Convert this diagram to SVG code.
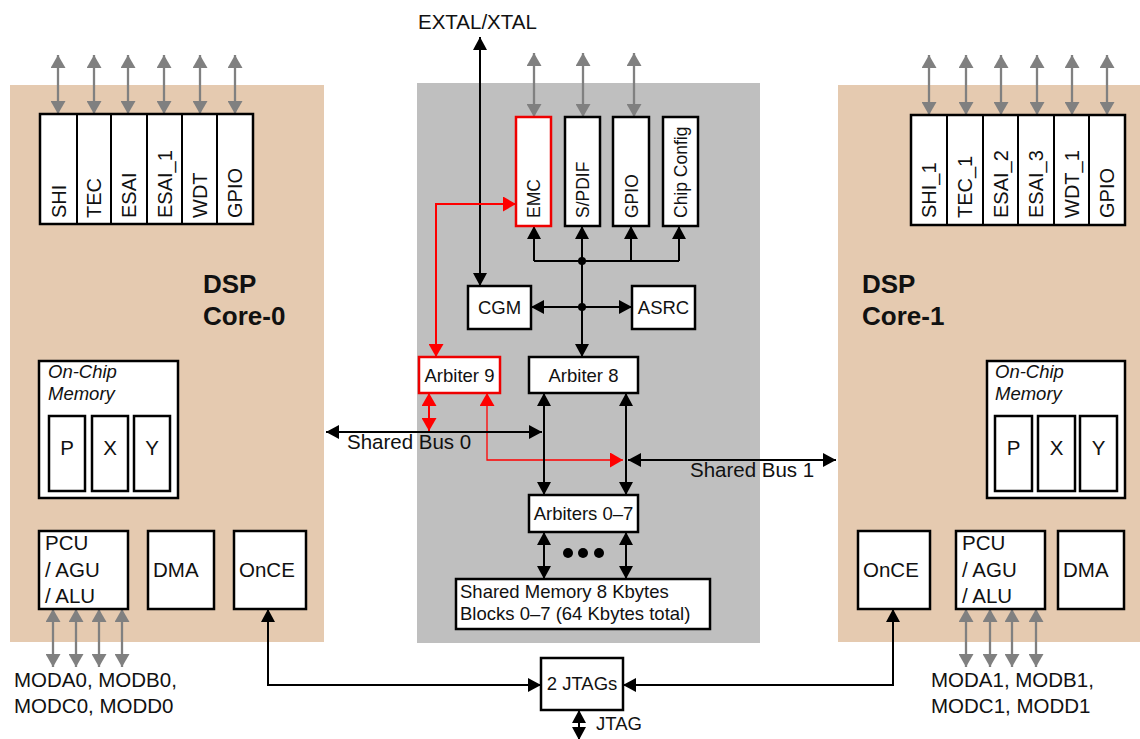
<svg xmlns="http://www.w3.org/2000/svg" width="1140" height="739" viewBox="0 0 1140 739">
<defs>
<style>
text{font-family:"Liberation Sans",Arial,sans-serif;fill:#111}
.box{fill:#fff;stroke:#000;stroke-width:2.5}
.rbox{fill:#fff;stroke:#e00;stroke-width:2.5}
.per{font-size:20px}
.cper{font-size:17.5px}
.ctr{font-size:18.5px}
.core{font-size:20.5px}
.lbl{font-size:20.5px}
.dsp{font-size:26px;font-weight:bold}
.ital{font-size:18.5px;font-style:italic}
.g{stroke:#808080;stroke-width:2.3;fill:none;marker-start:url(#ag);marker-end:url(#ag)}
.b2{stroke:#000;stroke-width:2;fill:none;marker-start:url(#ab);marker-end:url(#ab)}
.b1{stroke:#000;stroke-width:2;fill:none;marker-end:url(#ab)}
.bl{stroke:#000;stroke-width:2;fill:none}
.r2{stroke:#f00;stroke-width:2;fill:none;marker-start:url(#ar);marker-end:url(#ar)}
.rt{stroke:#f00;stroke-width:1.3;fill:none;marker-start:url(#ar);marker-end:url(#ar)}
</style>
<marker id="ag" viewBox="0 0 13 15" refX="13" refY="7.5" markerWidth="13" markerHeight="15" markerUnits="userSpaceOnUse" orient="auto-start-reverse"><path d="M0,0 L13,7.5 L0,15 z" fill="#808080"/></marker>
<marker id="ab" viewBox="0 0 13 14" refX="13" refY="7" markerWidth="13" markerHeight="14" markerUnits="userSpaceOnUse" orient="auto-start-reverse"><path d="M0,0 L13,7 L0,14 z" fill="#000"/></marker>
<marker id="ar" viewBox="0 0 13 15" refX="13" refY="7.5" markerWidth="13" markerHeight="15" markerUnits="userSpaceOnUse" orient="auto-start-reverse"><path d="M0,0 L13,7.5 L0,15 z" fill="#f00"/></marker>
</defs>
<rect width="1140" height="739" fill="#fff"/>
<g id="core0-bg"><rect x="10" y="85" width="314" height="557" fill="#e5cab0"/></g>
<g id="core1-bg"><rect x="838" y="85" width="302" height="557" fill="#e5cab0"/></g>
<g id="shared-bg"><rect x="417" y="83" width="343" height="560" fill="#bfbfbf"/></g>

<g id="connectors">
<line class="g" x1="58" y1="55" x2="58" y2="114"/>
<line class="g" x1="94" y1="55" x2="94" y2="114"/>
<line class="g" x1="128" y1="55" x2="128" y2="114"/>
<line class="g" x1="164" y1="55" x2="164" y2="114"/>
<line class="g" x1="200" y1="55" x2="200" y2="114"/>
<line class="g" x1="235" y1="55" x2="235" y2="114"/>
<line class="g" x1="929" y1="55" x2="929" y2="115"/>
<line class="g" x1="966" y1="55" x2="966" y2="115"/>
<line class="g" x1="1001" y1="55" x2="1001" y2="115"/>
<line class="g" x1="1037" y1="55" x2="1037" y2="115"/>
<line class="g" x1="1072" y1="55" x2="1072" y2="115"/>
<line class="g" x1="1107" y1="55" x2="1107" y2="115"/>
<line class="g" x1="534" y1="53" x2="534" y2="117"/>
<line class="g" x1="583" y1="53" x2="583" y2="117"/>
<line class="g" x1="634" y1="53" x2="634" y2="117"/>
<line class="g" x1="53" y1="609" x2="53" y2="667"/>
<line class="g" x1="76" y1="609" x2="76" y2="667"/>
<line class="g" x1="99" y1="609" x2="99" y2="667"/>
<line class="g" x1="122" y1="609" x2="122" y2="667"/>
<line class="g" x1="966" y1="609" x2="966" y2="667"/>
<line class="g" x1="990" y1="609" x2="990" y2="667"/>
<line class="g" x1="1012" y1="609" x2="1012" y2="667"/>
<line class="g" x1="1036" y1="609" x2="1036" y2="667"/>
<line class="b2" x1="480" y1="37" x2="480" y2="286"/>
<line class="bl" x1="534" y1="261" x2="679" y2="261"/>
<line class="b1" x1="534" y1="261" x2="534" y2="226"/>
<line class="b1" x1="582" y1="261" x2="582" y2="226"/>
<line class="b1" x1="631" y1="261" x2="631" y2="226"/>
<line class="b1" x1="679" y1="261" x2="679" y2="226"/>
<line class="b1" x1="582" y1="261" x2="582" y2="357"/>
<line class="b2" x1="531" y1="307" x2="632" y2="307"/>
<circle cx="582" cy="261" r="4" fill="#000"/>
<circle cx="582" cy="307" r="4" fill="#000"/>
<polyline class="r2" points="436,357 436,204 516,204"/>
<line class="r2" x1="429" y1="393" x2="429" y2="431"/>
<polyline class="rt" points="487,393 487,460 623,460"/>
<line class="b2" x1="326" y1="432" x2="542" y2="432"/>
<line class="b2" x1="628" y1="460" x2="836" y2="460"/>
<line class="b2" x1="544" y1="393" x2="544" y2="495"/>
<line class="b2" x1="626" y1="393" x2="626" y2="495"/>
<line class="b2" x1="544" y1="532" x2="544" y2="579"/>
<line class="b2" x1="626" y1="532" x2="626" y2="579"/>
<circle cx="568" cy="553" r="5" fill="#000"/>
<circle cx="583" cy="553" r="5" fill="#000"/>
<circle cx="599" cy="553" r="5" fill="#000"/>
<polyline class="b2" points="268,609 268,685 541,685"/>
<polyline class="b2" points="893,609 893,685 623,685"/>
<line class="b2" x1="579" y1="710" x2="579" y2="740"/>
</g>

<g id="labels">
<text class="lbl" x="418" y="29">EXTAL/XTAL</text>
<text class="lbl" x="347" y="449">Shared Bus 0</text>
<text class="lbl" x="690" y="477">Shared Bus 1</text>
<text class="ctr" x="596" y="730">JTAG</text>
<text class="lbl" x="14" y="687">MODA0, MODB0,</text>
<text class="lbl" x="14" y="713">MODC0, MODD0</text>
<text class="lbl" x="931" y="687">MODA1, MODB1,</text>
<text class="lbl" x="931" y="713">MODC1, MODD1</text>
<text class="dsp" x="203" y="293">DSP</text>
<text class="dsp" x="203" y="325">Core-0</text>
<text class="dsp" x="862" y="293">DSP</text>
<text class="dsp" x="862" y="325">Core-1</text>
</g>

<g id="periph0">
<rect class="box" x="40" y="114" width="213" height="110"/>
<line class="bl" x1="77" y1="114" x2="77" y2="224"/>
<line class="bl" x1="111" y1="114" x2="111" y2="224"/>
<line class="bl" x1="147" y1="114" x2="147" y2="224"/>
<line class="bl" x1="182" y1="114" x2="182" y2="224"/>
<line class="bl" x1="217" y1="114" x2="217" y2="224"/>
<text class="per" transform="translate(66,218) rotate(-90)">SHI</text>
<text class="per" transform="translate(101,218) rotate(-90)">TEC</text>
<text class="per" transform="translate(136,218) rotate(-90)">ESAI</text>
<text class="per" transform="translate(172,218) rotate(-90)">ESAI_1</text>
<text class="per" transform="translate(207,218) rotate(-90)">WDT</text>
<text class="per" transform="translate(242,218) rotate(-90)">GPIO</text>
</g>

<g id="periph1">
<rect class="box" x="911" y="115" width="214" height="110"/>
<line class="bl" x1="947" y1="115" x2="947" y2="225"/>
<line class="bl" x1="983" y1="115" x2="983" y2="225"/>
<line class="bl" x1="1018" y1="115" x2="1018" y2="225"/>
<line class="bl" x1="1054" y1="115" x2="1054" y2="225"/>
<line class="bl" x1="1089" y1="115" x2="1089" y2="225"/>
<text class="per" transform="translate(936,218) rotate(-90)">SHI_1</text>
<text class="per" transform="translate(972,218) rotate(-90)">TEC_1</text>
<text class="per" transform="translate(1008,218) rotate(-90)">ESAI_2</text>
<text class="per" transform="translate(1043,218) rotate(-90)">ESAI_3</text>
<text class="per" transform="translate(1079,218) rotate(-90)">WDT_1</text>
<text class="per" transform="translate(1114,218) rotate(-90)">GPIO</text>
</g>

<g id="emc"><rect class="rbox" x="516" y="117" width="35" height="109"/><text class="cper" transform="translate(540,218) rotate(-90)">EMC</text></g>
<g id="spdif"><rect class="box" x="565" y="117" width="35" height="109"/><text class="cper" transform="translate(589,218) rotate(-90)">S/PDIF</text></g>
<g id="gpio-c"><rect class="box" x="613" y="117" width="36" height="109"/><text class="cper" transform="translate(637.5,218) rotate(-90)">GPIO</text></g>
<g id="chipconfig"><rect class="box" x="663" y="117" width="35" height="109"/><text class="cper" transform="translate(687,218) rotate(-90)">Chip Config</text></g>

<g id="cgm"><rect class="box" x="468" y="286" width="63" height="43"/><text class="ctr" x="499.5" y="314" text-anchor="middle">CGM</text></g>
<g id="asrc"><rect class="box" x="632" y="286" width="63" height="43"/><text class="ctr" x="663.5" y="314" text-anchor="middle">ASRC</text></g>
<g id="arbiter9"><rect class="rbox" x="419" y="357" width="81" height="36"/><text class="ctr" x="459.5" y="382" text-anchor="middle">Arbiter 9</text></g>
<g id="arbiter8"><rect class="box" x="529" y="357" width="109" height="36"/><text class="ctr" x="583.5" y="382" text-anchor="middle">Arbiter 8</text></g>
<g id="arbiters07"><rect class="box" x="529" y="495" width="109" height="37"/><text class="ctr" x="583.5" y="520" text-anchor="middle">Arbiters 0–7</text></g>
<g id="sharedmem"><rect class="box" x="456" y="579" width="254" height="50"/><text class="ctr" x="460" y="598">Shared Memory 8 Kbytes</text><text class="ctr" x="460" y="620">Blocks 0–7 (64 Kbytes total)</text></g>
<g id="jtags"><rect class="box" x="541" y="658" width="82" height="52"/><text class="ctr" x="582" y="690" text-anchor="middle">2 JTAGs</text></g>

<g id="mem0">
<rect class="box" x="39" y="361" width="139" height="137"/>
<text class="ital" x="48" y="378">On-Chip</text>
<text class="ital" x="48" y="400">Memory</text>
<rect class="box" x="49" y="416" width="36" height="75"/>
<rect class="box" x="92" y="416" width="36" height="75"/>
<rect class="box" x="134" y="416" width="36" height="75"/>
<text class="core" x="67" y="455" text-anchor="middle">P</text>
<text class="core" x="110" y="455" text-anchor="middle">X</text>
<text class="core" x="152" y="455" text-anchor="middle">Y</text>
</g>
<g id="pcu0"><rect class="box" x="39" y="531" width="89" height="78"/><text class="core" x="45" y="550">PCU</text><text class="core" x="45" y="577">/ AGU</text><text class="core" x="45" y="603">/ ALU</text></g>
<g id="dma0"><rect class="box" x="148" y="531" width="66" height="78"/><text class="core" x="153" y="577">DMA</text></g>
<g id="once0"><rect class="box" x="234" y="531" width="72" height="78"/><text class="core" x="239" y="577">OnCE</text></g>

<g id="mem1">
<rect class="box" x="987" y="361" width="138" height="137"/>
<text class="ital" x="995" y="378">On-Chip</text>
<text class="ital" x="995" y="400">Memory</text>
<rect class="box" x="995" y="416" width="37" height="75"/>
<rect class="box" x="1038" y="416" width="37" height="75"/>
<rect class="box" x="1080" y="416" width="37" height="75"/>
<text class="core" x="1013.5" y="455" text-anchor="middle">P</text>
<text class="core" x="1056.5" y="455" text-anchor="middle">X</text>
<text class="core" x="1098.5" y="455" text-anchor="middle">Y</text>
</g>
<g id="once1"><rect class="box" x="858" y="531" width="72" height="78"/><text class="core" x="863" y="577">OnCE</text></g>
<g id="pcu1"><rect class="box" x="956" y="531" width="89" height="78"/><text class="core" x="962" y="550">PCU</text><text class="core" x="962" y="577">/ AGU</text><text class="core" x="962" y="603">/ ALU</text></g>
<g id="dma1"><rect class="box" x="1058" y="531" width="66" height="78"/><text class="core" x="1063" y="577">DMA</text></g>
</svg>
